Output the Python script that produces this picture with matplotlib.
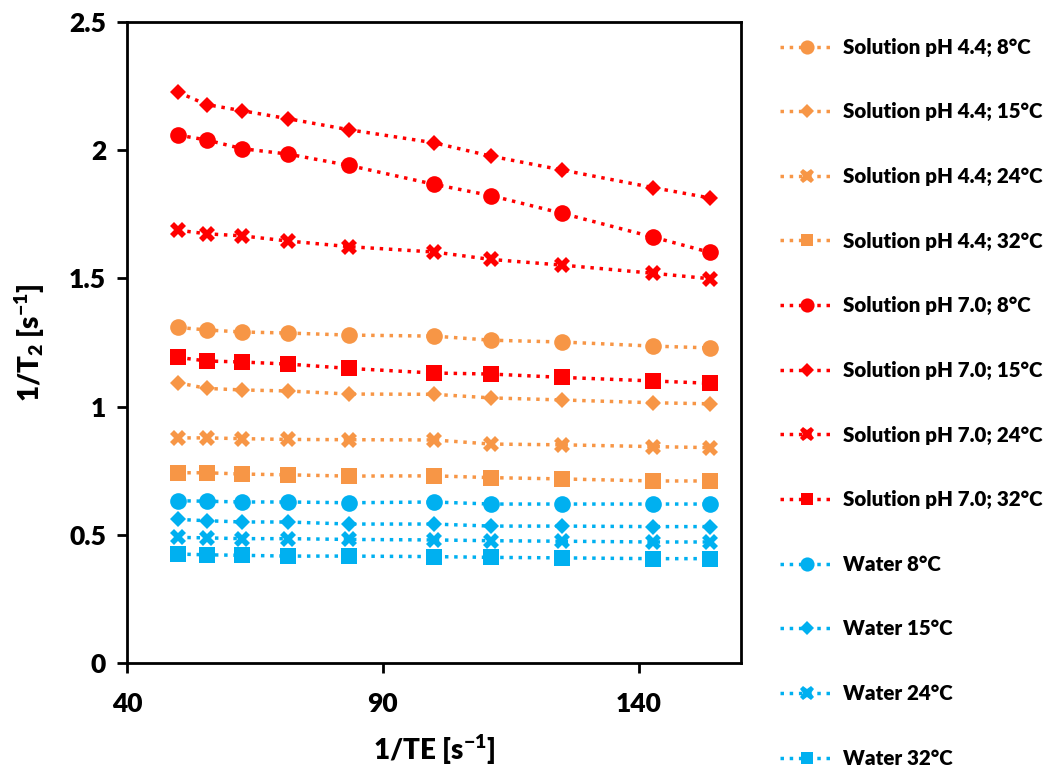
import matplotlib
matplotlib.use("Agg")
import matplotlib.pyplot as plt

# 1/TE values (s^-1)
inv_te = [50.0, 55.56, 62.5, 71.43, 83.33, 100.0, 111.11, 125.0, 142.86, 153.85]

ph44_8 = [1.309, 1.299, 1.291, 1.287, 1.279, 1.275, 1.259, 1.252, 1.236, 1.229]
ph44_15 = [1.093, 1.071, 1.065, 1.061, 1.049, 1.048, 1.034, 1.026, 1.015, 1.011]
ph44_24 = [0.878, 0.878, 0.875, 0.872, 0.871, 0.870, 0.854, 0.851, 0.844, 0.840]
ph44_32 = [0.742, 0.742, 0.737, 0.734, 0.729, 0.730, 0.723, 0.718, 0.710, 0.710]
ph70_8 = [2.059, 2.040, 2.006, 1.985, 1.941, 1.867, 1.823, 1.754, 1.661, 1.602]
ph70_15 = [2.226, 2.178, 2.154, 2.123, 2.080, 2.029, 1.977, 1.923, 1.854, 1.814]
ph70_24 = [1.688, 1.674, 1.666, 1.646, 1.624, 1.603, 1.574, 1.552, 1.520, 1.499]
ph70_32 = [1.192, 1.178, 1.174, 1.166, 1.149, 1.131, 1.127, 1.114, 1.100, 1.091]
water_8 = [0.633, 0.631, 0.628, 0.628, 0.625, 0.628, 0.620, 0.620, 0.620, 0.620]
water_15 = [0.560, 0.555, 0.550, 0.550, 0.542, 0.542, 0.534, 0.534, 0.532, 0.532]
water_24 = [0.490, 0.488, 0.485, 0.485, 0.482, 0.480, 0.477, 0.475, 0.472, 0.472]
water_32 = [0.425, 0.422, 0.420, 0.417, 0.417, 0.415, 0.412, 0.410, 0.407, 0.407]

labels = ["Solution pH 4.4; 8°C", "Solution pH 4.4; 15°C", "Solution pH 4.4; 24°C",
          "Solution pH 4.4; 32°C", "Solution pH 7.0; 8°C", "Solution pH 7.0; 15°C",
          "Solution pH 7.0; 24°C", "Solution pH 7.0; 32°C", "Water 8°C", "Water 15°C",
          "Water 24°C", "Water 32°C"]
series = [ph44_8, ph44_15, ph44_24, ph44_32, ph70_8, ph70_15, ph70_24, ph70_32,
          water_8, water_15, water_24, water_32]

orange = "#F79646"
red = "#FF0000"
blue = "#00B0F0"
colors = [orange] * 4 + [red] * 4 + [blue] * 4
markers = ["o", "D", "X", "s"] * 3
sizes = {"o": 12, "D": 8.5, "X": 12, "s": 11}

plt.rcParams['font.family'] = ['Lato', 'DejaVu Sans']
plt.rcParams['font.weight'] = 'heavy'
plt.rcParams['mathtext.fontset'] = 'custom'
plt.rcParams['mathtext.rm'] = 'Lato:heavy'
plt.rcParams['mathtext.bf'] = 'Lato:heavy'
plt.rcParams['mathtext.default'] = 'bf'

fig = plt.figure(figsize=(10.46, 7.78), dpi=100)
ax = fig.add_axes([0.1214, 0.1478, 0.587, 0.8239])

handles = []
for y, c, m, lab in zip(series, colors, markers, labels):
    h, = ax.plot(inv_te, y, linestyle=":", linewidth=2.5, color=c, marker=m,
                 markersize=sizes[m], markeredgewidth=0, label=lab)
    handles.append(h)

ax.set_xlim(40, 160)
ax.set_ylim(0, 2.5)
ax.set_xticks([40, 90, 140])
ax.set_yticks([0, 0.5, 1, 1.5, 2, 2.5])
ax.set_yticklabels(["0", "0.5", "1", "1.5", "2", "2.5"])
ax.tick_params(axis="both", labelsize=19, width=2, length=7, direction="out", pad=8)
ax.tick_params(axis="x", pad=14)
for lbl in ax.get_xticklabels() + ax.get_yticklabels():
    lbl.set_fontweight("heavy")
for sp in ax.spines.values():
    sp.set_linewidth(2)

ax.set_xlabel("1/TE [s$^{-1}$]", fontsize=20, fontweight="heavy", labelpad=12)
ax.set_ylabel("1/T$_{2}$ [s$^{-1}$]", fontsize=20, fontweight="heavy", labelpad=16)

leg = fig.legend(handles=handles, loc="upper left", bbox_to_anchor=(0.738, 0.962),
                 frameon=False, fontsize=14.8, labelspacing=2.22, handlelength=2.6,
                 markerscale=0.85, handletextpad=0.45, borderaxespad=0)
for t in leg.get_texts():
    t.set_fontweight("heavy")

fig.savefig("out.png", dpi=100)
